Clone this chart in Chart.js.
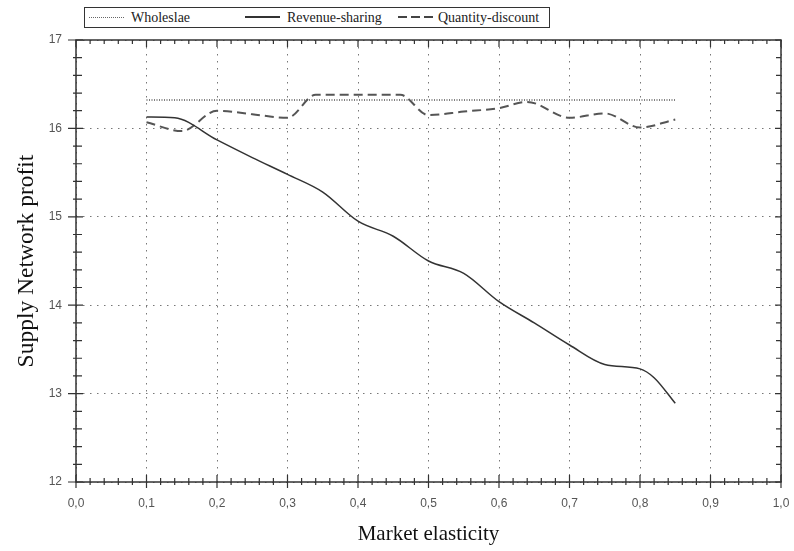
<!DOCTYPE html>
<html>
<head>
<meta charset="utf-8">
<script src="https://cdn.jsdelivr.net/npm/chart.js@4/dist/chart.umd.min.js"></script>
<style>
body { margin: 0; background: #fff; }
.wrap { position: relative; width: 794px; height: 551px; }
.legend {
    position: absolute; left: 84px; top: 7px; width: 464px; height: 19px;
    border: 1px solid #333; background: #fff;
    font-family: "Liberation Serif", "DejaVu Serif", serif; font-size: 14px; color: #222;
}
.legend .item { position: absolute; top: 0; height: 19px; line-height: 19px; white-space: nowrap; }
.legend .sample { position: absolute; top: 9px; width: 35px; }
.legend .label { position: absolute; top: 0; }
.sample.dotted { height: 1px; background: repeating-linear-gradient(90deg, #666 0 1px, transparent 1px 2px); }
.sample.solid { height: 2px; top: 8px; background: #333; }
.sample.dashed { height: 2px; top: 8px; background: repeating-linear-gradient(90deg, #444 0 9px, transparent 9px 13px); }
</style>
</head>
<body>
<div class="wrap">
    <canvas id="profitChart" width="794" height="551"></canvas>
    <!-- Legend -->
    <div class="legend">
        <div class="item" style="left:4px">
            <div class="sample dotted"></div>
            <span class="label" style="left:42px">Wholeslae</span>
        </div>
        <div class="item" style="left:160px">
            <div class="sample solid"></div>
            <span class="label" style="left:42px">Revenue-sharing</span>
        </div>
        <div class="item" style="left:313px">
            <div class="sample dashed"></div>
            <span class="label" style="left:40px">Quantity-discount</span>
        </div>
    </div>
</div>

<script>
// Data
const wholesaleX = [0.10, 0.85];
const wholesaleY = [16.32, 16.32];

const revenueX = [0.10, 0.14, 0.20, 0.25, 0.30, 0.35, 0.40, 0.45, 0.50, 0.55, 0.60, 0.65, 0.70, 0.75, 0.80, 0.82, 0.85];
const revenueY = [16.13, 16.12, 15.87, 15.67, 15.48, 15.28, 14.95, 14.78, 14.50, 14.36, 14.04, 13.80, 13.55, 13.33, 13.28, 13.18, 12.89];

const quantityX = [0.10, 0.15, 0.20, 0.25, 0.30, 0.34, 0.40, 0.46, 0.50, 0.55, 0.60, 0.64, 0.70, 0.75, 0.80, 0.85];
const quantityY = [16.07, 15.97, 16.20, 16.16, 16.12, 16.38, 16.38, 16.38, 16.15, 16.19, 16.23, 16.30, 16.12, 16.17, 16.01, 16.10];

const xTicks = [0, 0.1, 0.2, 0.3, 0.4, 0.5, 0.6, 0.7, 0.8, 0.9, 1.0];
const yTicks = [12, 13, 14, 15, 16, 17];

const toPoints = (xs, ys) => xs.map((x, i) => ({ x: x, y: ys[i] }));

// Frame with major / minor tick marks
const framePlugin = {
    id: 'frame',
    afterDraw(chart) {
        const ctx = chart.ctx;
        const a = chart.chartArea;
        const xs = chart.scales.x;
        const ys = chart.scales.y;
        ctx.save();
        ctx.strokeStyle = '#333';
        ctx.lineWidth = 1.5;
        ctx.strokeRect(a.left, a.top, a.right - a.left, a.bottom - a.top);
        ctx.lineWidth = 1.2;
        ctx.beginPath();
        // x ticks
        for (let i = 0; i <= 50; i++) {
            const v = i * 0.02;
            const px = xs.getPixelForValue(v);
            const major = i % 5 === 0;
            // bottom: crossing the axis
            ctx.moveTo(px, a.bottom - (major ? 7 : 4));
            ctx.lineTo(px, a.bottom + (major ? 6 : 3));
            // top: inward
            ctx.moveTo(px, a.top);
            ctx.lineTo(px, a.top + (major ? 7 : 4));
        }
        // y ticks
        for (let i = 0; i <= 25; i++) {
            const v = 12 + i * 0.2;
            const py = ys.getPixelForValue(v);
            const major = i % 5 === 0;
            ctx.moveTo(a.left - (major ? 8 : 3), py);
            ctx.lineTo(a.left + (major ? 7 : 6), py);
            ctx.moveTo(a.right, py);
            ctx.lineTo(a.right - (major ? 6 : 5), py);
        }
        ctx.stroke();
        ctx.restore();
    }
};

const ctx = document.getElementById('profitChart').getContext('2d');
new Chart(ctx, {
    type: 'line',
    data: {
        datasets: [
            {
                label: 'Wholeslae',
                data: toPoints(wholesaleX, wholesaleY),
                borderColor: '#555',
                borderWidth: 1.5,
                borderDash: [1, 1.5],
                pointRadius: 0,
                tension: 0
            },
            {
                label: 'Revenue-sharing',
                data: toPoints(revenueX, revenueY),
                borderColor: '#333',
                borderWidth: 1.5,
                pointRadius: 0,
                cubicInterpolationMode: 'monotone'
            },
            {
                label: 'Quantity-discount',
                data: toPoints(quantityX, quantityY),
                borderColor: '#555',
                borderWidth: 2,
                borderDash: [9, 5],
                pointRadius: 0,
                cubicInterpolationMode: 'monotone'
            }
        ]
    },
    options: {
        responsive: false,
        animation: false,
        devicePixelRatio: 1,
        layout: { padding: { top: 40, right: 13, left: 0, bottom: 0 } },
        plugins: {
            legend: { display: false },
            tooltip: { enabled: false }
        },
        scales: {
            x: {
                type: 'linear',
                min: 0,
                max: 1,
                afterBuildTicks: (scale) => { scale.ticks = xTicks.map(v => ({ value: v })); },
                afterFit: (scale) => {
                    scale.height = 69;
                    scale.paddingLeft = 0;
                    scale.paddingRight = 0;
                },
                ticks: {
                    padding: 14,
                    color: '#555',
                    font: { family: 'Liberation Sans, Arial, sans-serif', size: 12 },
                    callback: (v) => Number(v).toFixed(1).replace('.', ',')
                },
                grid: { color: '#777', lineWidth: 1, drawTicks: false },
                border: { display: false, dash: [1.5, 5.5] },
                title: {
                    display: true,
                    text: 'Market elasticity',
                    color: '#111',
                    font: { family: 'Liberation Serif, Times New Roman, serif', size: 21 },
                    padding: { top: 10 }
                }
            },
            y: {
                min: 12,
                max: 17,
                afterBuildTicks: (scale) => { scale.ticks = yTicks.map(v => ({ value: v })); },
                afterFit: (scale) => {
                    scale.width = 76;
                    scale.paddingTop = 0;
                    scale.paddingBottom = 0;
                },
                ticks: {
                    padding: 14,
                    color: '#555',
                    font: { family: 'Liberation Sans, Arial, sans-serif', size: 12 }
                },
                grid: { color: '#777', lineWidth: 1, drawTicks: false },
                border: { display: false, dash: [1.5, 5.5] },
                title: {
                    display: true,
                    text: 'Supply Network profit',
                    color: '#111',
                    font: { family: 'Liberation Serif, Times New Roman, serif', size: 23.5 },
                    padding: { top: 13, bottom: 4 }
                }
            }
        }
    },
    plugins: [framePlugin]
});
</script>
</body>
</html>
